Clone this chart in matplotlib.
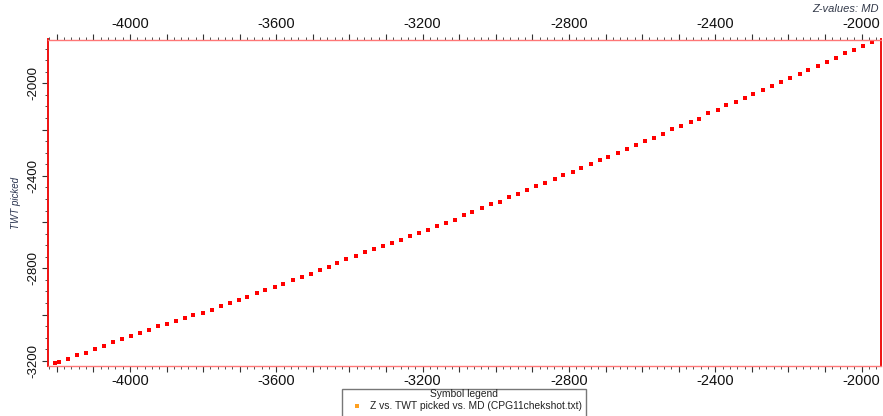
import matplotlib
matplotlib.use("Agg")
import matplotlib.pyplot as plt
from matplotlib.ticker import MultipleLocator, FuncFormatter
from matplotlib.patches import Rectangle

plt.rcParams['font.family'] = ['Liberation Sans', 'DejaVu Sans']

# checkshot samples: depth (Z) against picked two-way time
z_depth = [
    -4204, -4194, -4169, -4145, -4120, -4096, -4071, -4046, -4022, -3997,
    -3973, -3948, -3923, -3899, -3875, -3850, -3827, -3800, -3777, -3752,
    -3727, -3703, -3679, -3654, -3630, -3604, -3581, -3555, -3530, -3506,
    -3481, -3457, -3433, -3409, -3383, -3358, -3334, -3308, -3285, -3259,
    -3235, -3210, -3186, -3161, -3136, -3112, -3087, -3064, -3039, -3014,
    -2989, -2963, -2939, -2914, -2890, -2865, -2839, -2816, -2790, -2766,
    -2741, -2715, -2692, -2666, -2641, -2617, -2592, -2568, -2543, -2517,
    -2493, -2467, -2445, -2419, -2393, -2370, -2344, -2319, -2296, -2270,
    -2244, -2221, -2195, -2169, -2146, -2120, -2095, -2071, -2046, -2020,
    -1996, -1971,
]
twt_picked = [
    -3210, -3204, -3190, -3175, -3164, -3147, -3135, -3118, -3104, -3091,
    -3078, -3066, -3050, -3040, -3028, -3013, -3001, -2991, -2978, -2962,
    -2948, -2935, -2922, -2907, -2892, -2879, -2866, -2851, -2837, -2825,
    -2808, -2794, -2777, -2761, -2745, -2730, -2716, -2704, -2690, -2676,
    -2661, -2647, -2633, -2617, -2604, -2589, -2570, -2556, -2539, -2523,
    -2512, -2493, -2480, -2461, -2444, -2430, -2415, -2398, -2383, -2366,
    -2349, -2331, -2317, -2300, -2283, -2265, -2251, -2236, -2220, -2199,
    -2185, -2167, -2153, -2130, -2114, -2094, -2080, -2062, -2045, -2029,
    -2010, -1996, -1978, -1961, -1944, -1924, -1907, -1892, -1870, -1857,
    -1838, -1822,
]

xlim = (-4224, -1947)
ylim = (-3222, -1811)
legend_title = "Symbol legend"
legend_entry = "Z vs. TWT picked vs. MD (CPG11chekshot.txt)"

fig = plt.figure(figsize=(8.83, 4.16), dpi=100)
ax = fig.add_axes([48 / 883, 50 / 416, 833 / 883, 326.5 / 416])

ax.plot(z_depth, twt_picked, linestyle='none', marker='s', markersize=3.0,
        color='#ff0000', markeredgewidth=0)

ax.set_xlim(*xlim)
ax.set_ylim(*ylim)


def every(step):
    return FuncFormatter(lambda v, _: f"{v:.0f}" if abs(v % step) < 1e-6 else "")


ax.xaxis.set_major_locator(MultipleLocator(100))
ax.xaxis.set_minor_locator(MultipleLocator(20))
ax.xaxis.set_major_formatter(every(400))
ax.yaxis.set_major_locator(MultipleLocator(200))
ax.yaxis.set_minor_locator(MultipleLocator(50))
ax.yaxis.set_major_formatter(every(400))

ax.tick_params(axis='x', which='both', top=True, bottom=True,
               labeltop=True, labelbottom=True, direction='out',
               color='#333333', labelsize=10.5, labelcolor='#111111')
ax.tick_params(axis='x', which='major', length=4, width=0.8, pad=2)
ax.tick_params(axis='x', which='minor', length=2, width=0.6)
ax.tick_params(axis='y', which='both', left=True, right=False,
               direction='out', color='#333333', labelsize=9.5,
               labelcolor='#111111')
ax.tick_params(axis='y', which='major', length=4, width=0.8, pad=2)
ax.tick_params(axis='y', which='minor', length=2, width=0.6)
for lbl in ax.get_yticklabels():
    lbl.set_rotation(90)
    lbl.set_va('center')

for side in ('left', 'right'):
    ax.spines[side].set_color('#ee1111')
    ax.spines[side].set_linewidth(1.4)
for side in ('top', 'bottom'):
    ax.spines[side].set_color('#ff7777')
    ax.spines[side].set_linewidth(1.0)

ax.set_ylabel("TWT picked", fontsize=7, style='italic', color='#2b3550')
ax.yaxis.set_label_coords(-27 / 833, 0.5)

fig.text(879 / 883, 1 - 9 / 416, "Z-values: MD", ha='right', va='center',
         fontsize=8, style='italic', color='#333a4a')

# symbol legend box under the plot
box = Rectangle((342 / 883, -0.01), 244 / 883, (416 - 389) / 416 + 0.01,
                transform=fig.transFigure, facecolor='white',
                edgecolor='#777777', linewidth=1.0)
fig.add_artist(box)
fig.text(464 / 883, 1 - 394 / 416, legend_title, ha='center', va='center',
         fontsize=7.4, color='#222222')
fig.add_artist(plt.Line2D([357 / 883], [1 - 406 / 416], marker='s',
                          markersize=2.5, color='#ffa020', markeredgewidth=0,
                          transform=fig.transFigure))
fig.text(370 / 883, 1 - 406 / 416, legend_entry, ha='left', va='center',
         fontsize=7.4, color='#222222')

fig.savefig("out.png", dpi=100)
